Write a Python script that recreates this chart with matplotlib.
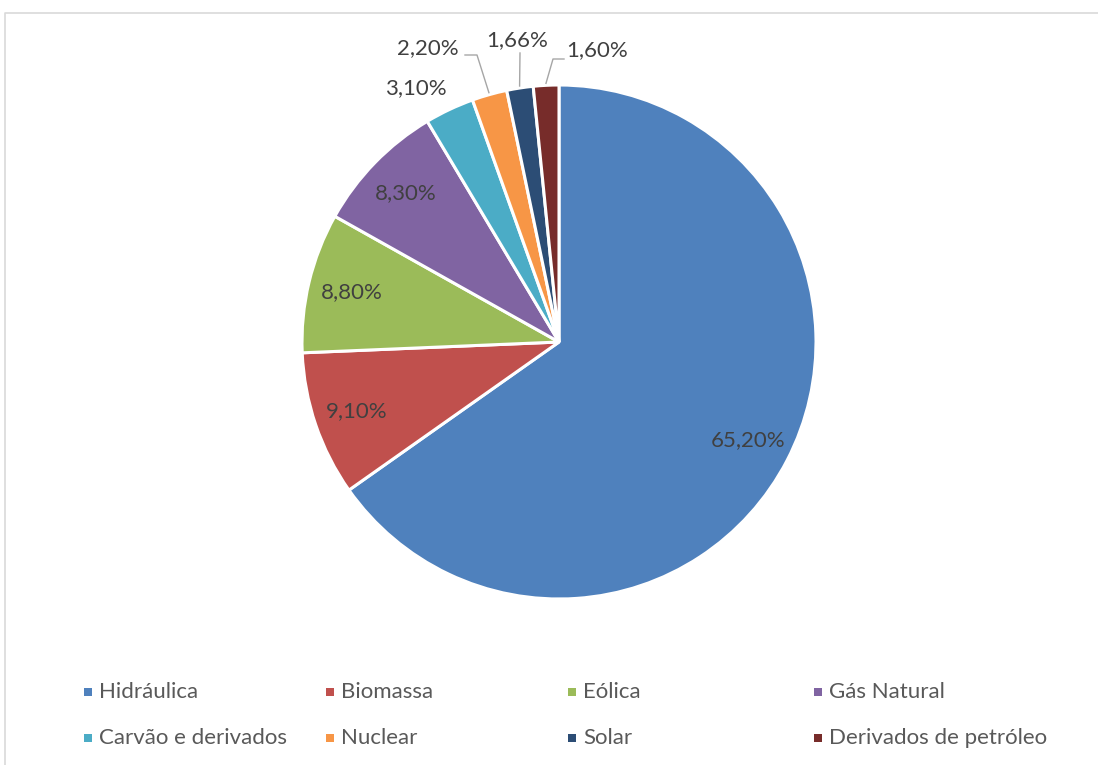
import numpy as np
import matplotlib
matplotlib.use("Agg")
import matplotlib.pyplot as plt
from matplotlib.patches import Rectangle

categories = ["Hidráulica", "Biomassa", "Eólica", "Gás Natural",
              "Carvão e derivados", "Nuclear", "Solar", "Derivados de petróleo"]
values = [65.20, 9.10, 8.80, 8.30, 3.10, 2.20, 1.66, 1.60]
value_labels = ["65,20%", "9,10%", "8,80%", "8,30%", "3,10%", "2,20%", "1,66%", "1,60%"]
colors = ["#4F81BD", "#C0504D", "#9BBB59", "#8064A2",
          "#4BACC6", "#F79646", "#2C4D75", "#772C2A"]

W, H = 1098, 765
FONT = "Lato"
fig = plt.figure(figsize=(W / 100, H / 100), dpi=100)
ax = fig.add_axes([0, 0, 1, 1])
ax.set_xlim(0, W)
ax.set_ylim(0, H)
ax.axis("off")

# chart border (light grey, top & left visible)
ax.plot([4.5, 4.5, W + 5], [-5, H - 12.5, H - 12.5], color="#D9D9D9", lw=1.2)

cx, cy, R = 559, H - 342, 257
wedges, _ = ax.pie(values, colors=colors, startangle=90, counterclock=False,
                   center=(cx, cy), radius=R, normalize=True,
                   wedgeprops=dict(edgecolor="white", linewidth=2.2))
ax.set_xlim(0, W)
ax.set_ylim(0, H)
ax.set_aspect("equal")

txt_color = "#404040"
FS = 16
# inside labels
for i in range(4):
    w = wedges[i]
    ang = np.deg2rad((w.theta1 + w.theta2) / 2)
    d = 0.83 * R
    ax.text(cx + d * np.cos(ang), cy + d * np.sin(ang), value_labels[i],
            ha="center", va="center", fontsize=FS, color=txt_color, family=FONT)

# outside labels: text center, elbow points (pixel coords from top)
outside = {
    4: dict(text=(416, 88), path=None),
    5: dict(text=(428, 48), path=[(465, 55), (477, 55)]),
    6: dict(text=(517, 40), path=[(520, 53)]),
    7: dict(text=(597, 50), path=[(564, 59), (553, 59)]),
}
for i, o in outside.items():
    tx, ty = o["text"]
    ax.text(tx, H - ty, value_labels[i], ha="center", va="center",
            fontsize=FS, color=txt_color, family=FONT)
    if o["path"]:
        w = wedges[i]
        ang = np.deg2rad((w.theta1 + w.theta2) / 2)
        ex, ey = cx + (R + 2) * np.cos(ang), cy + (R + 2) * np.sin(ang)
        xs = [p[0] for p in o["path"]] + [ex]
        ys = [H - p[1] for p in o["path"]] + [ey]
        ax.plot(xs, ys, color="#A6A6A6", lw=1.0)

# legend (manual grid, 4 columns x 2 rows)
col_x = [88, 330, 572, 818]
row_y = [692, 738]
for k, (name, c) in enumerate(zip(categories, colors)):
    x = col_x[k % 4]
    y = H - row_y[k // 4]
    ax.add_patch(Rectangle((x - 4, y - 4), 8, 8, facecolor=c, edgecolor="none"))
    ax.text(x + 11, y, name, ha="left", va="center", fontsize=FS,
            color="#595959", family=FONT)

fig.savefig("out.png", dpi=100)
